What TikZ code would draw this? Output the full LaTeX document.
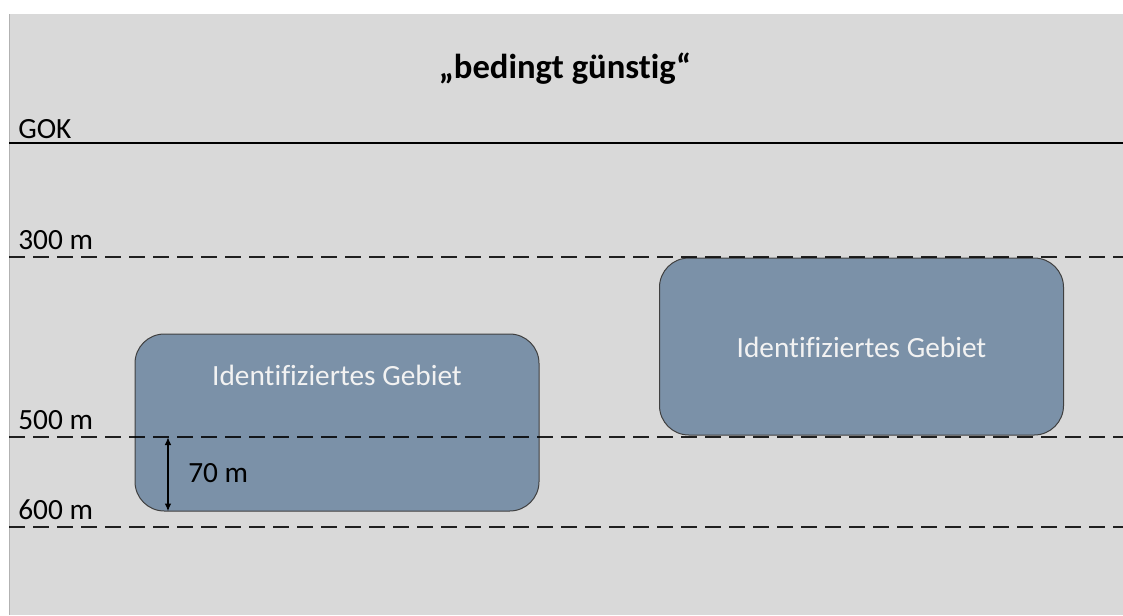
\documentclass[tikz,border=0pt]{standalone}
\usepackage{fontspec}
\setmainfont{Carlito}[Ligatures=NoCommon]
\usetikzlibrary{arrows.meta}
\usetikzlibrary{positioning}
\definecolor{slidegray}{HTML}{D9D9D9}
\definecolor{gebietblue}{HTML}{7B91A8}

\begin{document}
\begin{tikzpicture}[
				x=0.75pt, y=-0.75pt,
				surface/.style={line width=1.5pt},
				level/.style={line width=1.5pt, dash pattern=on 12pt off 6pt},
				levellabel/.style={anchor=base west, inner sep=0pt, font=\fontsize{22}{26}\selectfont},
				gebiet/.style={draw=black!75, line width=0.75pt, fill=gebietblue, rounded corners=22pt, minimum width=303pt, minimum height=132.75pt},
				gebiettext/.style={anchor=base, inner sep=0pt, text=white!95!black, font=\fontsize{22}{26}\selectfont},
				arrow/.style={line width=1.3pt, {Latex[length=6pt,width=5pt]}-{Latex[length=6pt,width=5pt]}},
			]
				\useasboundingbox (0,0) rectangle (1123,615);
				\fill[slidegray] (9,14) rectangle (1123,615);
				\draw[gray!60, line width=0.75pt] (9,14) -- (9,615);

				\node[anchor=base, font=\bfseries\fontsize{26}{30}\selectfont] (title) at (565,78) {„bedingt günstig“};

				% identified areas
				\node[gebiet] (gebietA) at (337,422.5) {};
				\node[gebiet] (gebietB) at (861.5,346.5) {};
				\node[gebiettext] (textA) at (337,385) {Identifiziertes Gebiet};
				\node[gebiettext] (textB) at (861.5,357) {Identifiziertes Gebiet};

				% ground surface
				\coordinate (gokL) at (9,143);
				\coordinate (gokR) at (1123,143);
				\draw[surface] (gokL) -- (gokR);
				\node[levellabel] (gok) at (18,138) {GOK};

				% depth levels
				\foreach \depth/\ypos in {300/257, 500/437, 600/527} {
					\coordinate (l\depth L) at (9,\ypos);
					\coordinate (l\depth R) at (1123,\ypos);
					\draw[level, draw opacity=0.85] (l\depth L) -- (l\depth R);
					\node[levellabel] (lab\depth) at (18,\ypos-8) {\depth~m};
				}

				% thickness
				\coordinate (dimtop) at (168,437);
				\draw[arrow] (dimtop) -- (dimtop |- gebietA.south);
				\node[levellabel] (dim) at (188,482) {70 m};
			\end{tikzpicture}
\end{document}
